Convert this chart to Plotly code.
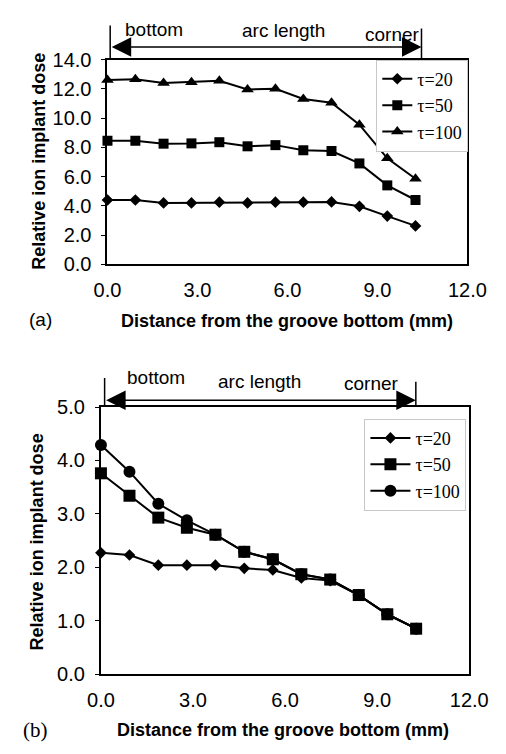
import plotly.graph_objects as go

W, H = 506, 754

# ---------------- data ----------------
distance = [0.0, 0.93, 1.87, 2.8, 3.73, 4.67, 5.6, 6.53, 7.47, 8.4, 9.33, 10.27]

a_tau20 = [4.40, 4.40, 4.20, 4.20, 4.25, 4.20, 4.25, 4.25, 4.27, 3.97, 3.30, 2.63]
a_tau50 = [8.45, 8.45, 8.25, 8.27, 8.35, 8.07, 8.15, 7.80, 7.75, 6.90, 5.40, 4.40]
a_tau100 = [12.60, 12.65, 12.40, 12.45, 12.55, 11.95, 12.00, 11.30, 11.05, 9.55, 7.25, 5.85]

b_tau20 = [2.27, 2.23, 2.04, 2.04, 2.04, 1.98, 1.95, 1.80, 1.75, 1.48, 1.12, 0.85]
b_tau50 = [3.76, 3.34, 2.93, 2.74, 2.61, 2.29, 2.15, 1.87, 1.77, 1.48, 1.12, 0.85]
b_tau100 = [4.29, 3.79, 3.19, 2.88, 2.61, 2.29, 2.15, 1.87, 1.77, 1.48, 1.12, 0.85]

series_names = ["τ=20", "τ=50", "τ=100"]
x_ticks = [0, 3, 6, 9, 12]
a_y_ticks = [0, 2, 4, 6, 8, 10, 12, 14]
b_y_ticks = [0, 1, 2, 3, 4, 5]
y_title = "Relative ion implant dose"
x_title = "Distance from the groove bottom (mm)"
region_labels = ["bottom", "arc length", "corner"]


def py(p):
    return 1 - p / H


def px(p):
    return p / W


SANS = "Liberation Sans, Arial, sans-serif"
SERIF = "Liberation Serif, Times New Roman, serif"

fig = go.Figure()

# ---------- top chart (a) ----------
a_sets = [(a_tau100, "triangle-up", 11, 2), (a_tau20, "diamond", 9, 0), (a_tau50, "square", 10, 1)]
for vals, sym, size, idx in a_sets:
    fig.add_trace(go.Scatter(
        x=distance, y=vals, mode="lines+markers", name=series_names[idx],
        line=dict(color="black", width=2),
        marker=dict(symbol=sym, size=size, color="black"),
        xaxis="x", yaxis="y", legend="legend", legendrank=idx + 1,
        cliponaxis=False))

# ---------- bottom chart (b) ----------
b_sets = [(b_tau100, "circle", 12, 2), (b_tau20, "diamond", 9, 0), (b_tau50, "square", 12, 1)]
for vals, sym, size, idx in b_sets:
    fig.add_trace(go.Scatter(
        x=distance, y=vals, mode="lines+markers", name=series_names[idx],
        line=dict(color="black", width=2),
        marker=dict(symbol=sym, size=size, color="black"),
        xaxis="x2", yaxis="y2", legend="legend2", legendrank=idx + 1,
        cliponaxis=False))

axis_common = dict(
    showline=True, mirror=True, linecolor="black", linewidth=2,
    showgrid=False, zeroline=False,
    tickfont=dict(family=SANS, size=20, color="black"),
    tickformat=".1f",
)

fig.update_layout(
    width=W, height=H,
    margin=dict(l=0, r=0, t=0, b=0),
    paper_bgcolor="white", plot_bgcolor="white",
    xaxis=dict(domain=[px(100), px(485)], range=[0, 12], tickvals=x_ticks,
               anchor="y", ticks="", ticklabelstandoff=7, **axis_common),
    yaxis=dict(domain=[py(261), py(50)], range=[0, 14], tickvals=a_y_ticks,
               anchor="x", ticks="outside", ticklen=4, tickwidth=1, tickcolor="black",
               ticklabelstandoff=6, **axis_common),
    xaxis2=dict(domain=[px(93), px(487)], range=[0, 12], tickvals=x_ticks,
                anchor="y2", ticks="", ticklabelstandoff=7, **axis_common),
    yaxis2=dict(domain=[py(683), py(408)], range=[0, 5], tickvals=b_y_ticks,
                anchor="x2", ticks="outside", ticklen=4, tickwidth=1, tickcolor="black",
                ticklabelstandoff=6, **axis_common),
    legend=dict(x=px(486), xanchor="right", y=py(50), yanchor="top",
                bgcolor="white", bordercolor="#c8c8c8", borderwidth=1,
                font=dict(family=SERIF, size=18, color="black"),
                itemwidth=30),
    legend2=dict(x=px(484), xanchor="right", y=py(420), yanchor="top",
                 bgcolor="white", bordercolor="#c8c8c8", borderwidth=1,
                 font=dict(family=SERIF, size=18, color="black"),
                 itemwidth=40, tracegroupgap=0),
    showlegend=True,
)

ann = []
shapes = []

# axis titles and panel labels
for (xc, yc) in [(27, 155), (25, 547)]:
    ann.append(dict(text="<b>%s</b>" % y_title, x=px(xc), y=py(yc), xref="paper", yref="paper",
                    textangle=-90, showarrow=False, xanchor="center", yanchor="middle",
                    font=dict(family=SANS, size=18, color="black")))
for (xc, yc) in [(292, 319), (288, 741)]:
    ann.append(dict(text="<b>%s</b>" % x_title, x=px(xc), y=py(yc), xref="paper", yref="paper",
                    showarrow=False, xanchor="center", yanchor="middle",
                    font=dict(family=SANS, size=18, color="black")))
ann.append(dict(text="(a)", x=px(28), y=py(318), xref="paper", yref="paper", showarrow=False,
                xanchor="center", yanchor="middle", font=dict(family=SANS, size=19, color="black")))
ann.append(dict(text="(b)", x=px(23), y=py(741), xref="paper", yref="paper", showarrow=False,
                xanchor="center", yanchor="middle", font=dict(family=SERIF, size=21, color="black")))

# region markers
regions = [
    ("x", 0.09, 10.47, 37, 15, 18, 50, [1.56, 5.86, 9.5], [19, 20, 24]),
    ("x2", 0.12, 10.26, 401, 378, 382, 408, [1.8, 5.18, 8.8], [377, 382, 384]),
]
for xr, xl, xrgt, ay, ltop, rtop, ptop, lx, ly in regions:
    shapes.append(dict(type="line", xref=xr, yref="paper", x0=xl, x1=xl, y0=py(ptop), y1=py(ltop),
                       line=dict(color="black", width=1.5)))
    shapes.append(dict(type="line", xref=xr, yref="paper", x0=xrgt, x1=xrgt, y0=py(ptop), y1=py(rtop),
                       line=dict(color="black", width=1.5)))
    ann.append(dict(text="", x=xrgt, y=py(ay), xref=xr, yref="paper",
                    ax=xl, axref=xr, ay=0, ayref="pixel",
                    showarrow=True, arrowside="end+start",
                    arrowhead=2, startarrowhead=2, arrowsize=2.6, startarrowsize=2.6,
                    arrowwidth=1.5, arrowcolor="black", standoff=0, startstandoff=0))
    for t, xx, yy in zip(region_labels, lx, ly):
        ann.append(dict(text=t, x=xx, y=py(yy), xref=xr, yref="paper", showarrow=False,
                        xanchor="center", yanchor="middle",
                        font=dict(family=SANS, size=19, color="black")))

fig.update_layout(annotations=ann, shapes=shapes)

fig.write_html("out.html", config={"displayModeBar": False})
